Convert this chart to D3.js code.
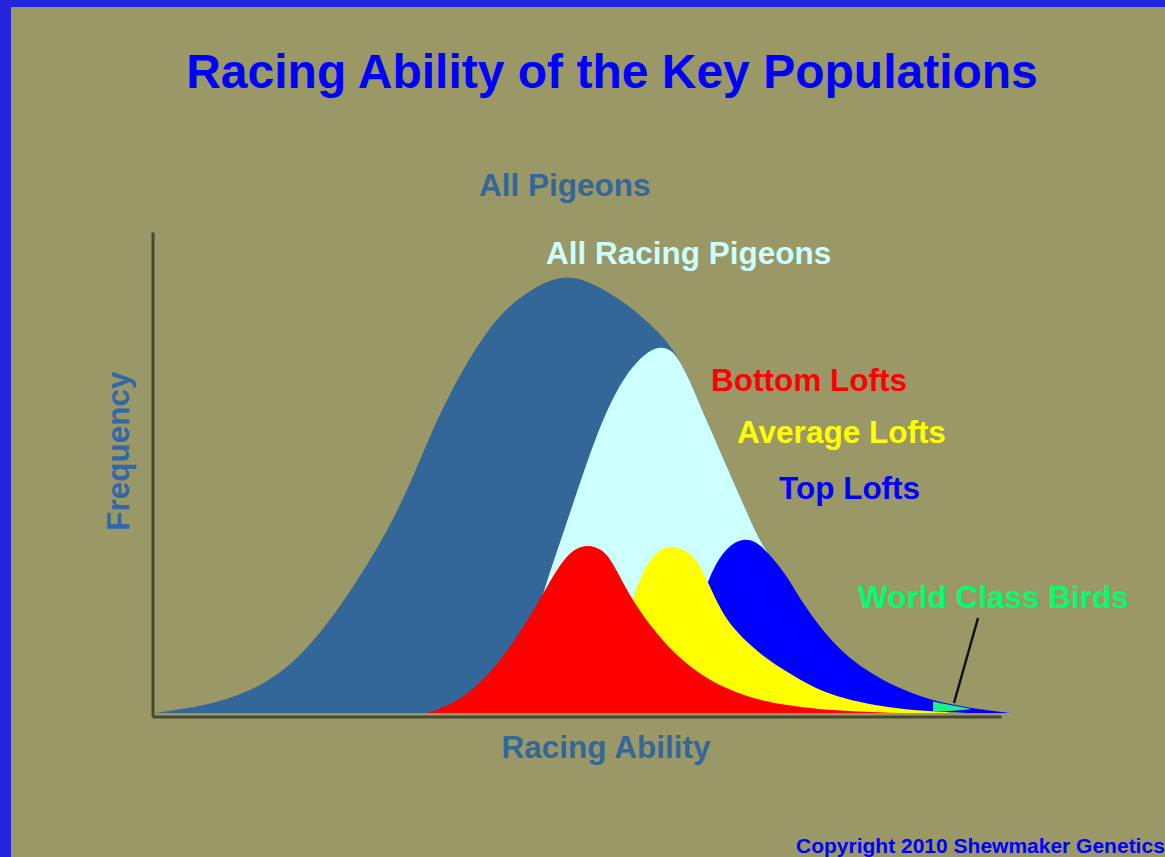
<!DOCTYPE html>
<html>
<head>
<meta charset="utf-8">
<script src="https://cdn.jsdelivr.net/npm/d3@7"></script>
<style>
  html, body { margin: 0; padding: 0; background: #9a9866; overflow: hidden; }
  svg { display: block; font-family: 'Liberation Sans', Arial, sans-serif; font-weight: bold; }
</style>
</head>
<body>
<div id="chart"></div>
<script>
'use strict'

// curves: [racing ability, frequency], both 0-100
const allPigeons = [
  [0.3, 0], [5.7, 1.3], [11.6, 4.2], [17.5, 11.0], [23.4, 24.9], [29.3, 42.2], [33.1, 59.5],
  [37.2, 73.4], [41.0, 83.2], [44.6, 87.9], [46.9, 90.0], [49.3, 90.9], [52.0, 89.4],
  [56.0, 85.2], [59.9, 79.0], [61.3, 75.8], [62.3, 73.0], [63.5, 68.8], [64.6, 64.0],
  [65.8, 59.3], [67.8, 51.1], [70.2, 41.6], [71.7, 35.3], [76.4, 22.9], [80.3, 13.7],
  [84.3, 8.3], [88.2, 4.8], [92.1, 2.3], [96.1, 1.0], [101.2, 0]
]
const racingPigeons = [
  [35.7, 0], [38.7, 1.3], [41.6, 4.2], [43.6, 10.0], [45.2, 19.3], [46.6, 27.7], [48.7, 38.5],
  [50.2, 46.4], [52.2, 56.8], [54.2, 65.1], [56.1, 70.9], [58.1, 74.8], [59.9, 76.3],
  [61.3, 75.5], [62.3, 73.0], [63.5, 68.8], [64.6, 64.0], [65.8, 59.3], [67.8, 51.1],
  [70.2, 41.6], [71.7, 35.3], [76.4, 22.9], [80.3, 13.7], [84.3, 8.3], [88.2, 4.8],
  [92.1, 2.3], [96.1, 1.0], [101.2, 0]
]
const topLofts = [
  [57.5, 0], [62.3, 11.0], [64.6, 22.5], [66.0, 29.7], [67.8, 34.6], [69.7, 36.4], [71.3, 35.6],
  [72.5, 33.6], [74.9, 28.6], [76.4, 23.6], [80.3, 14.2], [84.3, 8.6], [88.2, 5.0],
  [92.1, 2.5], [96.1, 1.1], [101.2, 0]
]
const averageLofts = [
  [48.1, 0], [52.2, 4.8], [54.6, 13.1], [56.4, 22.5], [58.1, 30.6], [59.9, 34.2], [61.4, 34.8],
  [63.1, 33.8], [64.6, 31.2], [66.6, 22.9], [68.5, 17.3], [72.5, 11.0], [76.4, 6.9],
  [80.3, 3.3], [88.2, 0.6], [96.1, 0]
]
const bottomLofts = [
  [32.2, 0], [33.1, 0.2], [37.1, 3.3], [41.0, 10.4], [44.9, 20.8], [48.1, 31.2], [49.9, 34.3],
  [51.4, 35.0], [53.1, 34.1], [54.4, 31.2], [56.7, 22.9], [60.7, 13.7], [64.6, 7.9],
  [68.5, 4.4], [72.5, 2.1], [80.3, 0.4], [88.2, 0]
]
// [ability, top, bottom]
const worldClass = [[92.1, 2.4, 0.2], [94.0, 1.7, 0.4], [96.5, 0.9, 0.8]]

const series = [
  { name: 'All Pigeons', data: allPigeons, color: '#336699' },
  { name: 'All Racing Pigeons', data: racingPigeons, color: '#ccffff' },
  { name: 'Top Lofts', data: topLofts, color: '#0000ff' },
  { name: 'Average Lofts', data: averageLofts, color: '#ffff00' },
  { name: 'Bottom Lofts', data: bottomLofts, color: '#ff0000' }
]

const labels = [
  { text: 'All Pigeons', x: 479, y: 196, color: '#336699' },
  { text: 'All Racing Pigeons', x: 546, y: 264, color: '#ccffff' },
  { text: 'Bottom Lofts', x: 711, y: 391, color: '#ff0000' },
  { text: 'Average Lofts', x: 737, y: 443, color: '#ffff00' },
  { text: 'Top Lofts', x: 779, y: 499, color: '#0000ff' },
  { text: 'World Class Birds', x: 858, y: 608, color: '#00ff6e' }
]

const width = 1165, height = 857

const svg = d3.select('#chart').append('svg')
  .attr('width', width)
  .attr('height', height)

svg.append('rect').attr('width', width).attr('height', height).attr('fill', '#9a9866')
// blue frame on the left and top
svg.append('rect').attr('width', 11).attr('height', height).attr('fill', '#2424dc')
svg.append('rect').attr('width', width).attr('height', 7).attr('fill', '#2424dc')

const x = d3.scaleLinear().domain([0, 100]).range([152, 1000])
const y = d3.scaleLinear().domain([0, 100]).range([713, 232])

const area = d3.area()
  .x(d => x(d[0]))
  .y0(y(0))
  .y1(d => y(d[1]))
  .curve(d3.curveBasis)

svg.append('g').selectAll('path')
  .data(series)
  .join('path')
    .attr('d', d => area(d.data))
    .attr('fill', d => d.color)

svg.append('path')
  .attr('d', d3.area()
    .x(d => x(d[0]))
    .y0(d => y(d[2]))
    .y1(d => y(d[1]))
    .curve(d3.curveMonotoneX)(worldClass))
  .attr('fill', '#22ee88')

// axes: plain lines, no ticks
svg.append('g')
  .attr('transform', 'translate(0, 716.5)')
  .call(d3.axisBottom(x.copy().range([152, 1001])).tickValues([]).tickSizeOuter(0))
svg.append('g')
  .attr('transform', 'translate(152.5, 0)')
  .call(d3.axisLeft(y.copy().range([716, 232])).tickValues([]).tickSizeOuter(0))
svg.selectAll('.domain')
  .attr('stroke', '#48482e')
  .attr('stroke-width', 3)

// pointer to the world class birds
svg.append('line')
  .attr('x1', 978).attr('y1', 618)
  .attr('x2', 954).attr('y2', 703)
  .attr('stroke', '#111')
  .attr('stroke-width', 2.5)

svg.append('text')
  .attr('x', 612).attr('y', 88)
  .attr('text-anchor', 'middle')
  .attr('font-size', 48)
  .attr('fill', '#0000ff')
  .text('Racing Ability of the Key Populations')

svg.append('g').selectAll('text')
  .data(labels)
  .join('text')
    .attr('x', d => d.x)
    .attr('y', d => d.y)
    .attr('font-size', 31.5)
    .attr('fill', d => d.color)
    .text(d => d.text)

svg.append('text')
  .attr('x', 606).attr('y', 758)
  .attr('text-anchor', 'middle')
  .attr('font-size', 31.5)
  .attr('fill', '#336699')
  .text('Racing Ability')

svg.append('text')
  .attr('transform', 'translate(129, 451) rotate(-90)')
  .attr('text-anchor', 'middle')
  .attr('font-size', 31.5)
  .attr('fill', '#3367a8')
  .text('Frequency')

svg.append('text')
  .attr('x', 796).attr('y', 853)
  .attr('font-size', 21)
  .attr('fill', '#0000ff')
  .text('Copyright 2010 Shewmaker Genetics')
</script>
</body>
</html>
